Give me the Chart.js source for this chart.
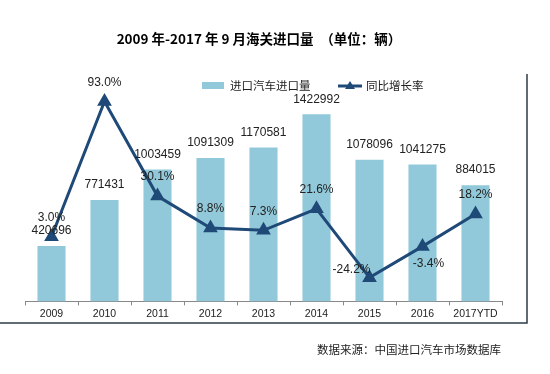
<!DOCTYPE html>
<html>
<head>
<meta charset="utf-8">
<script src="https://cdn.jsdelivr.net/npm/chart.js@4/dist/chart.umd.min.js"></script>
<style>
  html, body { margin: 0; padding: 0; background: #fff; }
  #wrap { position: relative; width: 550px; height: 374px; }
  #title {
    position: absolute; left: 0; top: 28px; width: 518px; text-align: center;
    font: bold 13.5px "Noto Sans CJK SC", sans-serif; color: #000; white-space: pre;
  }
  #source {
    position: absolute; right: 49px; top: 341px;
    font: 11.5px "Noto Sans CJK SC", sans-serif; color: #222;
  }
</style>
</head>
<body>
<div id="wrap">
  <canvas id="chart" width="550" height="374"></canvas>
  <div id="title">2009 年-2017 年 9 月海关进口量　（单位：辆）</div>
  <div id="source">数据来源：中国进口汽车市场数据库</div>
</div>
<script>
const years = ['2009', '2010', '2011', '2012', '2013', '2014', '2015', '2016', '2017YTD'];
const importVolume = [420696, 771431, 1003459, 1091309, 1170581, 1422992, 1078096, 1041275, 884015];
const growthRate = [3.0, 93.0, 30.1, 8.8, 7.3, 21.6, -24.2, -3.4, 18.2];
const seriesNames = ['进口汽车进口量', '同比增长率'];

const barColor = '#92c9da';
const lineColor = '#1f4a78';
const labelFont = '12px "Liberation Sans", Arial, sans-serif';

// where a growth label sits relative to its point (default: above)
const growthLabelShift = { 6: [-18, -8], 7: [6, 17] };

const valueLabels = {
  id: 'valueLabels',
  afterDatasetsDraw(chart) {
    const ctx = chart.ctx;
    ctx.save();
    ctx.font = labelFont;
    ctx.fillStyle = '#222';
    ctx.textAlign = 'center';
    ctx.textBaseline = 'middle';
    chart.getDatasetMeta(0).data.forEach((bar, i) => {
      ctx.fillText(String(importVolume[i]), bar.x, bar.y - 15);
    });
    chart.getDatasetMeta(1).data.forEach((pt, i) => {
      const s = growthLabelShift[i] || [0, -19];
      ctx.fillText(growthRate[i].toFixed(1) + '%', pt.x + s[0], pt.y + s[1]);
    });
    ctx.restore();
  }
};

const legendAndFrame = {
  id: 'legendAndFrame',
  afterDraw(chart) {
    const ctx = chart.ctx;
    ctx.save();
    // legend
    ctx.fillStyle = barColor;
    ctx.fillRect(202, 82, 22, 7);
    ctx.strokeStyle = lineColor;
    ctx.lineWidth = 3;
    ctx.beginPath();
    ctx.moveTo(338, 86);
    ctx.lineTo(362, 86);
    ctx.stroke();
    ctx.fillStyle = lineColor;
    ctx.beginPath();
    ctx.moveTo(350, 81);
    ctx.lineTo(355, 89);
    ctx.lineTo(345, 89);
    ctx.closePath();
    ctx.fill();
    ctx.font = '11.5px "Noto Sans CJK SC", sans-serif';
    ctx.fillStyle = '#222';
    ctx.textBaseline = 'middle';
    ctx.fillText(seriesNames[0], 230, 86);
    ctx.fillText(seriesNames[1], 366, 86);
    // frame (right + bottom)
    ctx.strokeStyle = '#2e3b45';
    ctx.lineWidth = 1.5;
    ctx.beginPath();
    ctx.moveTo(527, 74);
    ctx.lineTo(527, 323);
    ctx.lineTo(0, 323);
    ctx.stroke();
    ctx.restore();
  }
};

new Chart(document.getElementById('chart'), {
  data: {
    labels: years,
    datasets: [
      {
        type: 'bar',
        label: seriesNames[0],
        data: importVolume,
        backgroundColor: barColor,
        barPercentage: 0.53,
        categoryPercentage: 1,
        yAxisID: 'y',
        order: 1
      },
      {
        type: 'line',
        label: seriesNames[1],
        data: growthRate,
        borderColor: lineColor,
        backgroundColor: lineColor,
        borderWidth: 3,
        pointStyle: 'triangle',
        pointRadius: 5.5,
        tension: 0,
        yAxisID: 'y2',
        order: 0
      }
    ]
  },
  options: {
    responsive: false,
    animation: false,
    layout: { padding: { left: 25, right: 48, top: 91, bottom: 52 } },
    plugins: { legend: { display: false }, tooltip: { enabled: false } },
    scales: {
      x: {
        offset: true,
        grid: { offset: true, drawOnChartArea: false, tickLength: 4, color: '#888' },
        border: { color: '#888' },
        ticks: { font: { size: 10.5, family: '"Liberation Sans", Arial, sans-serif' }, color: '#222', padding: 2, maxRotation: 0 }
      },
      y: { display: false, min: 0, max: 1600000 },
      y2: { display: false, min: -40, max: 100, position: 'right' }
    }
  },
  plugins: [valueLabels, legendAndFrame]
});
</script>
</body>
</html>
